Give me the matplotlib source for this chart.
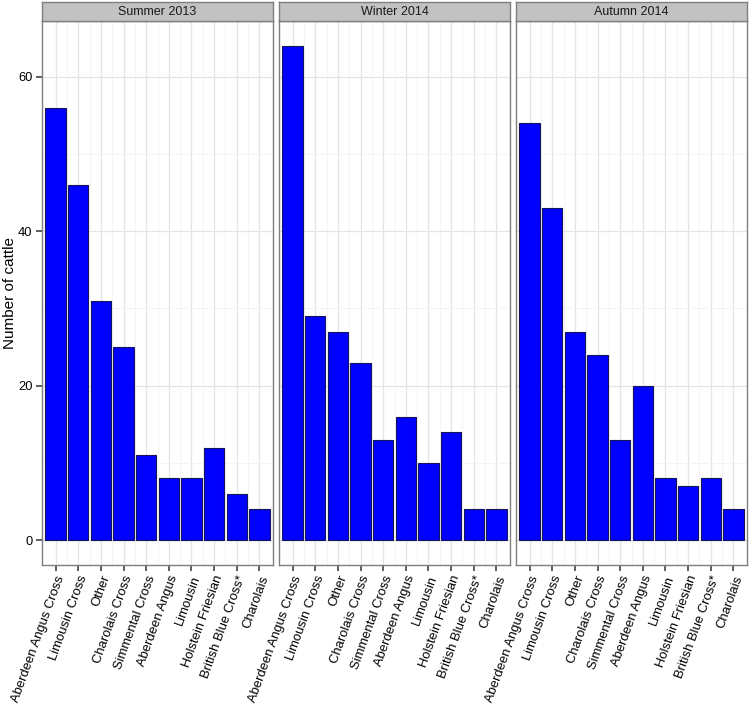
import matplotlib
matplotlib.use("Agg")
import matplotlib.pyplot as plt
import numpy as np
from matplotlib.ticker import MultipleLocator

plt.rcParams['font.family'] = ['Liberation Sans', 'DejaVu Sans']

breeds = ["Aberdeen Angus Cross", "Limousin Cross", "Other", "Charolais Cross",
          "Simmental Cross", "Aberdeen Angus", "Limousin", "Holstein Friesian",
          "British Blue Cross*", "Charolais"]
seasons = ["Summer 2013", "Winter 2014", "Autumn 2014"]
summer_2013 = [56, 46, 31, 25, 11, 8, 8, 12, 6, 4]
winter_2014 = [64, 29, 27, 23, 13, 16, 10, 14, 4, 4]
autumn_2014 = [54, 43, 27, 24, 13, 20, 8, 7, 8, 4]
values = [summer_2013, winter_2014, autumn_2014]

W, H = 750, 709
fig = plt.figure(figsize=(W/100, H/100), dpi=100)

lefts = [42, 279, 516]
pw = 231
top, bottom = 21, 565
strip_top = 2

ymax = max(max(v) for v in values)
ylim = (-0.05*ymax, ymax*1.05)
x = np.arange(len(breeds))

for i, (season, vals) in enumerate(zip(seasons, values)):
    ax = fig.add_axes([lefts[i]/W, 1-bottom/H, pw/W, (bottom-top)/H])
    ax.set_axisbelow(True)
    ax.bar(x, vals, width=0.9, color='#0000FF', edgecolor='#14145a', linewidth=0.8, zorder=3)
    ax.set_xlim(-0.6, len(breeds)-0.4)
    ax.set_ylim(*ylim)
    ax.set_xticks(x)
    ax.set_xticklabels(breeds, rotation=70, ha='right', va='top',
                       rotation_mode='anchor', fontsize=9.4)
    ax.set_xticks(x[:-1]+0.5, minor=True)
    ax.yaxis.set_major_locator(MultipleLocator(20))
    ax.yaxis.set_minor_locator(MultipleLocator(10))
    ax.grid(which='major', color='#e4e4e4', linewidth=0.9)
    ax.grid(which='minor', color='#f3f3f3', linewidth=0.6)
    ax.tick_params(axis='x', which='minor', length=0)
    ax.tick_params(axis='y', which='minor', length=0)
    ax.tick_params(which='major', length=4.3, width=1.1, color='#333333', labelsize=9.3, pad=2.5)
    ax.tick_params(axis='x', which='major', labelsize=9.4, pad=2)
    for s in ax.spines.values():
        s.set_color('#7f7f7f')
        s.set_linewidth(1.0)
    if i > 0:
        ax.set_yticklabels([])
        ax.tick_params(axis='y', length=0)
    # strip
    sax = fig.add_axes([lefts[i]/W, 1-top/H, pw/W, (top-strip_top)/H])
    sax.set_facecolor('#c2c2c2')
    sax.set_xticks([]); sax.set_yticks([])
    for s in sax.spines.values():
        s.set_color('#7f7f7f')
        s.set_linewidth(1.0)
    sax.text(0.5, 0.45, season, ha='center', va='center', fontsize=9, color='#1a1a1a',
             transform=sax.transAxes)

fig.text(10/W, 1-((top+bottom)/2)/H, "Number of cattle", rotation=90,
         ha='center', va='center', fontsize=11)

fig.savefig("out.png", dpi=100)
